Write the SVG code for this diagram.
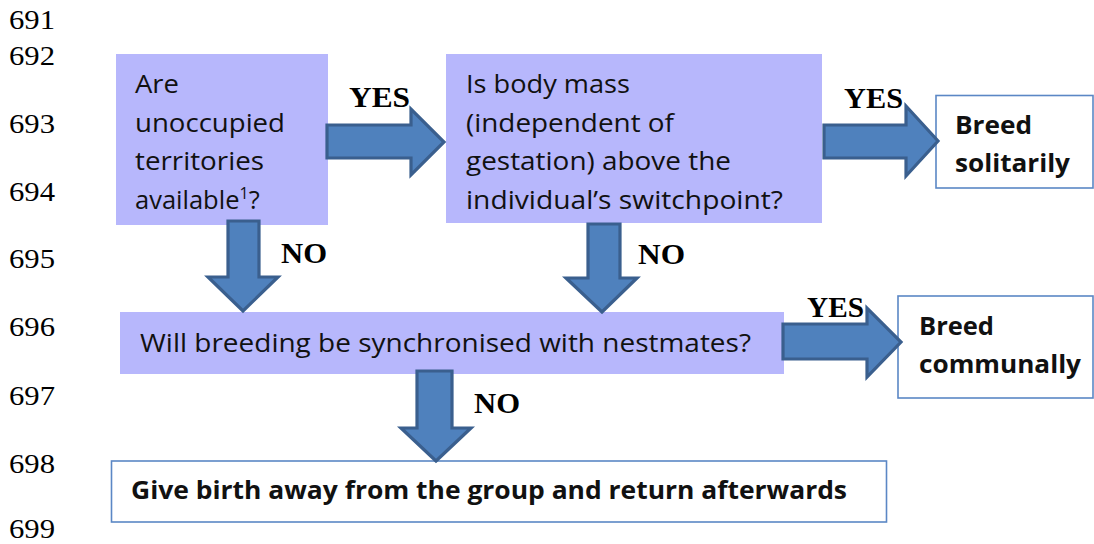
<svg xmlns="http://www.w3.org/2000/svg" width="1094" height="544" viewBox="0 0 1094 544">
<style>
.ln{font-family:"Liberation Serif","Times New Roman",serif;font-size:27.5px;fill:#000}
.q{fill:#b7b7fc}
.o{fill:#fff;stroke:#5b87c5;stroke-width:1.6}
.t{font-family:"Open Sans","Noto Sans",sans-serif;font-size:25.5px;fill:#111}
.b{font-family:"Open Sans","Noto Sans",sans-serif;font-size:25px;font-weight:bold;fill:#111}
.lab{font-family:"Liberation Serif","Times New Roman",serif;font-size:29px;font-weight:bold;fill:#000}
.arr{fill:#4f81bd;stroke:#3a5f8e;stroke-width:3.2;stroke-linejoin:miter}
</style>
<g id="line-numbers">
<text class="ln" x="9" y="29" textLength="46" lengthAdjust="spacingAndGlyphs">691</text>
<text class="ln" x="9" y="65" textLength="46" lengthAdjust="spacingAndGlyphs">692</text>
<text class="ln" x="9" y="133" textLength="46" lengthAdjust="spacingAndGlyphs">693</text>
<text class="ln" x="9" y="201" textLength="46" lengthAdjust="spacingAndGlyphs">694</text>
<text class="ln" x="9" y="268" textLength="46" lengthAdjust="spacingAndGlyphs">695</text>
<text class="ln" x="9" y="336" textLength="46" lengthAdjust="spacingAndGlyphs">696</text>
<text class="ln" x="9" y="405" textLength="46" lengthAdjust="spacingAndGlyphs">697</text>
<text class="ln" x="9" y="473" textLength="46" lengthAdjust="spacingAndGlyphs">698</text>
<text class="ln" x="9" y="538" textLength="46" lengthAdjust="spacingAndGlyphs">699</text>
</g>
<g id="q-territories">
<rect class="q" x="116" y="54" width="212" height="171"/>
<text class="t" x="135" y="93" textLength="44" lengthAdjust="spacingAndGlyphs">Are</text>
<text class="t" x="135" y="131.5" textLength="150" lengthAdjust="spacingAndGlyphs">unoccupied</text>
<text class="t" x="135" y="170" textLength="129" lengthAdjust="spacingAndGlyphs">territories</text>
<text class="t" x="135" y="208.5">available<tspan font-size="16" dy="-10">1</tspan><tspan dy="10">?</tspan></text>
</g>
<g id="q-bodymass">
<rect class="q" x="446" y="54" width="376" height="169"/>
<text class="t" x="466" y="93" textLength="164" lengthAdjust="spacingAndGlyphs">Is body mass</text>
<text class="t" x="466" y="131.5" textLength="208" lengthAdjust="spacingAndGlyphs">(independent of</text>
<text class="t" x="466" y="170" textLength="265" lengthAdjust="spacingAndGlyphs">gestation) above the</text>
<text class="t" x="466" y="208.5" textLength="317" lengthAdjust="spacingAndGlyphs">individual’s switchpoint?</text>
</g>
<g id="out-solitary">
<rect class="o" x="936" y="95.5" width="157" height="92.5"/>
<text class="b" x="955" y="134" textLength="77" lengthAdjust="spacingAndGlyphs">Breed</text>
<text class="b" x="955" y="172" textLength="115" lengthAdjust="spacingAndGlyphs">solitarily</text>
</g>
<g id="q-synchronised">
<rect class="q" x="120" y="312" width="664" height="62"/>
<text class="t" x="140" y="352" textLength="611" lengthAdjust="spacingAndGlyphs">Will breeding be synchronised with nestmates?</text>
</g>
<g id="out-communal">
<rect class="o" x="898" y="296" width="195" height="102"/>
<text class="b" x="919" y="335" textLength="75" lengthAdjust="spacingAndGlyphs">Breed</text>
<text class="b" x="919" y="373" textLength="162" lengthAdjust="spacingAndGlyphs">communally</text>
</g>
<g id="out-away">
<rect class="o" x="111.5" y="461" width="775" height="61"/>
<text class="b" x="131" y="499" textLength="716" lengthAdjust="spacingAndGlyphs">Give birth away from the group and return afterwards</text>
</g>
<g id="connectors">
<path class="arr" d="M327,125 H411 V109 L444,142 L411,175 V158 H327 Z"/>
<path class="arr" d="M824,125 H906 V106 L938,141 L906,176 V158 H824 Z"/>
<path class="arr" d="M783,324 H867 V308 L901,342 L867,377 V359 H783 Z"/>
<path class="arr" d="M228,221 V277 H208 L243,311 L278,277 H259 V221 Z"/>
<path class="arr" d="M588,224 V278 H566 L602,312 L637,278 H620 V224 Z"/>
<path class="arr" d="M417,371 V428 H401 L436,461 L471,428 H452 V371 Z"/>
<text class="lab" x="349" y="107" textLength="61" lengthAdjust="spacingAndGlyphs">YES</text>
<text class="lab" x="844" y="108" textLength="59" lengthAdjust="spacingAndGlyphs">YES</text>
<text class="lab" x="807" y="317" textLength="57" lengthAdjust="spacingAndGlyphs">YES</text>
<text class="lab" x="281" y="263" textLength="46" lengthAdjust="spacingAndGlyphs">NO</text>
<text class="lab" x="638" y="264" textLength="47" lengthAdjust="spacingAndGlyphs">NO</text>
<text class="lab" x="474" y="413" textLength="46" lengthAdjust="spacingAndGlyphs">NO</text>
</g>
</svg>
